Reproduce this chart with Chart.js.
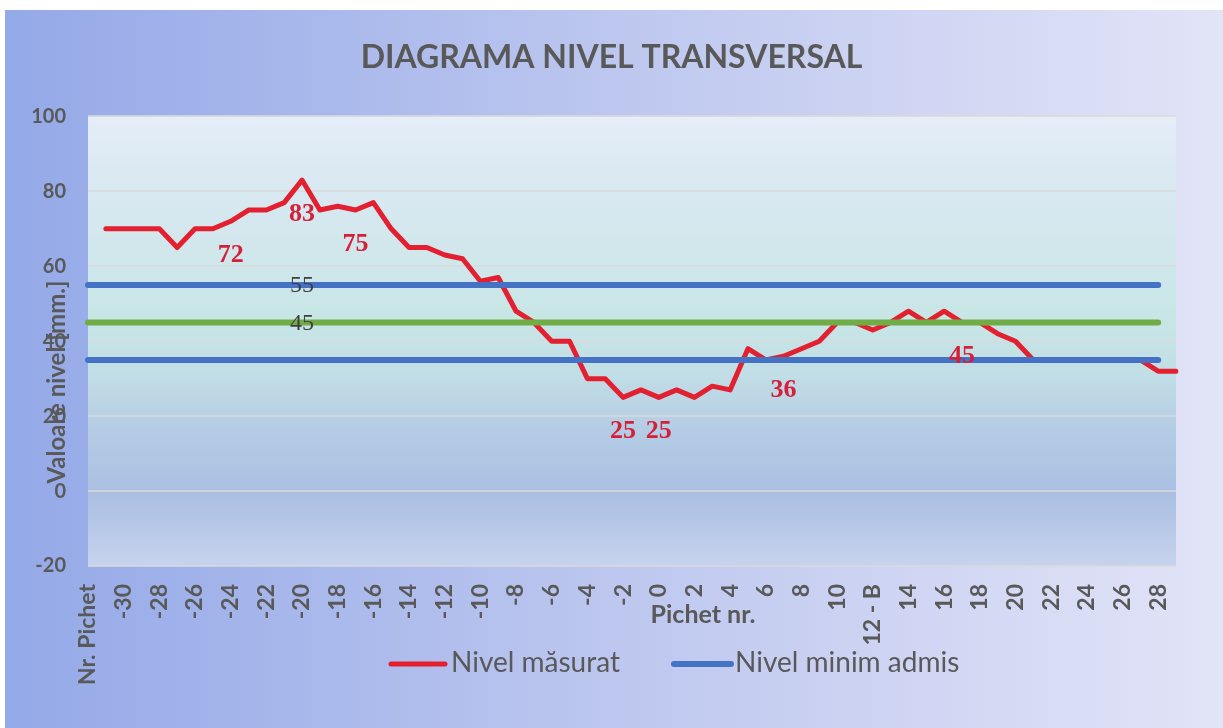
<!DOCTYPE html>
<html>
<head>
<meta charset="utf-8">
<script src="https://cdn.jsdelivr.net/npm/chart.js@4.4.1/dist/chart.umd.min.js"></script>
<style>
  html, body { margin: 0; padding: 0; background: #fff; }
  canvas { display: block; }
</style>
</head>
<body>
<canvas id="grafic" width="1223" height="728"></canvas>
<script>
// pichetii de pe axa X
const pichete = ['Nr. Pichet',
  '-31', '-30', '-29', '-28', '-27', '-26', '-25', '-24', '-23', '-22',
  '-21', '-20', '-19', '-18', '-17', '-16', '-15', '-14', '-13', '-12',
  '-11', '-10', '-9', '-8', '-7', '-6', '-5', '-4', '-3', '-2', '-1',
  '0', '1', '2', '3', '4', '5', '6', '7', '8', '9', '10',
  '11', '12 - B', '13', '14', '15', '16', '17', '18', '19', '20',
  '21', '22', '23', '24', '25', '26', '27', '28', '29'];

// nivelul masurat pe fiecare pichet
const nivelMasurat = [null,
  70, 70, 70, 70, 65, 70, 70, 72, 75, 75,
  77, 83, 75, 76, 75, 77, 70, 65, 65, 63,
  62, 56, 57, 48, 45, 40, 40, 30, 30, 25, 27,
  25, 27, 25, 28, 27, 38, 35, 36, 38, 40, 45,
  45, 43, 45, 48, 45, 48, 45, 45, 42, 40,
  35, 35, 35, 35, 35, 35, 35, 32, 32];

// liniile de referinta
const nivelMaximAdmis = 55;
const nivelMediu = 45;
const nivelMinimAdmis = 35;
const capeteLinii = ['Nr. Pichet', '-20', '28'];

// pichetii la care apare valoarea masurata
const picheteEtichetate = ['-24', '-20', '-17', '-2', '0', '7', '17'];

const gri = '#595959';
const rosu = '#e3202f';
const albastru = '#4472c4';
const verde = '#70ad47';

function linie(valoare) {
  return capeteLinii.map(p => ({ x: p, y: valoare }));
}

// fundalul graficului si al zonei de desen
const fundal = {
  id: 'fundal',
  beforeDraw(chart) {
    const { ctx, chartArea: a, width, height } = chart;
    ctx.save();
    ctx.fillStyle = '#ffffff';
    ctx.fillRect(0, 0, width, height);
    const g = ctx.createLinearGradient(5, 0, width, 0);
    g.addColorStop(0, '#94a9e8');
    g.addColorStop(0.5, '#bdc7ef');
    g.addColorStop(1, '#e2e4f7');
    ctx.fillStyle = g;
    ctx.fillRect(5, 10, width - 5, height - 10);
    const p = ctx.createLinearGradient(0, a.top, 0, a.bottom);
    p.addColorStop(0, '#e6eef8');
    p.addColorStop(0.12, '#dbe9f3');
    p.addColorStop(0.3, '#d1e7ec');
    p.addColorStop(0.45, '#c8e6e6');
    p.addColorStop(0.58, '#c1dde6');
    p.addColorStop(0.7, '#b4cce5');
    p.addColorStop(0.84, '#aabfe2');
    p.addColorStop(1, '#c7d3ee');
    ctx.fillStyle = p;
    ctx.fillRect(a.left, a.top, a.right - a.left, a.bottom - a.top);
    ctx.restore();
  }
};

// etichetele valorilor
const etichete = {
  id: 'etichete',
  afterDatasetsDraw(chart) {
    const ctx = chart.ctx;
    ctx.save();
    ctx.textAlign = 'center';
    ctx.textBaseline = 'middle';
    ctx.fillStyle = '#d42038';
    ctx.font = 'bold 26px "Liberation Serif"';
    const meta = chart.getDatasetMeta(0);
    picheteEtichetate.forEach(p => {
      const i = pichete.indexOf(p);
      const pt = meta.data[i];
      ctx.fillText(String(nivelMasurat[i]), pt.x, pt.y + 34);
    });
    ctx.fillStyle = '#404040';
    ctx.font = '24px "Liberation Serif"';
    [2, 3].forEach(d => {
      const pt = chart.getDatasetMeta(d).data[1];
      ctx.fillText(String(chart.data.datasets[d].data[1].y), pt.x, pt.y + 1);
    });
    ctx.restore();
  }
};

// legenda si titlurile axelor
const legenda = {
  id: 'legenda',
  afterDraw(chart) {
    const ctx = chart.ctx;
    const ds = chart.data.datasets;
    ctx.save();
    [[0, 391, 445, 451], [1, 674, 731, 735]].forEach(([d, x0, x1, tx]) => {
      ctx.strokeStyle = ds[d].borderColor;
      ctx.lineWidth = ds[d].borderWidth;
      ctx.lineCap = 'round';
      ctx.beginPath();
      ctx.moveTo(x0, 664);
      ctx.lineTo(x1, 664);
      ctx.stroke();
      ctx.fillStyle = gri;
      ctx.font = '28px Lato';
      ctx.textAlign = 'left';
      ctx.textBaseline = 'middle';
      ctx.fillText(ds[d].label, tx, 663);
    });
    ctx.font = 'bold 25px Lato';
    ctx.textAlign = 'center';
    ctx.fillText('Pichet nr.', 703, 615);
    ctx.translate(65, 382);
    ctx.rotate(-Math.PI / 2);
    ctx.font = 'bold 24px Lato';
    ctx.textBaseline = 'alphabetic';
    ctx.fillText('Valoare nivel [mm.]', 0, 0);
    ctx.restore();
  }
};

new Chart(document.getElementById('grafic'), {
  type: 'line',
  data: {
    labels: pichete,
    datasets: [
      {
        label: 'Nivel măsurat',
        data: nivelMasurat,
        borderColor: rosu,
        borderWidth: 5,
        borderJoinStyle: 'round',
        borderCapStyle: 'round',
        pointRadius: 0,
        order: 5
      },
      {
        label: 'Nivel minim admis',
        data: linie(nivelMinimAdmis),
        borderColor: albastru,
        borderWidth: 6,
        borderCapStyle: 'round',
        pointRadius: 0,
        order: 2
      },
      {
        label: 'Nivel maxim admis',
        data: linie(nivelMaximAdmis),
        borderColor: albastru,
        borderWidth: 6,
        borderCapStyle: 'round',
        pointRadius: 0,
        order: 1
      },
      {
        label: 'Nivel mediu',
        data: linie(nivelMediu),
        borderColor: verde,
        borderWidth: 6,
        borderCapStyle: 'round',
        pointRadius: 0,
        order: 0
      }
    ]
  },
  options: {
    responsive: false,
    animation: false,
    devicePixelRatio: 1,
    layout: { padding: { top: 10, left: 0, right: 0, bottom: 0 } },
    plugins: {
      legend: { display: false },
      tooltip: { enabled: false },
      title: {
        display: true,
        text: 'DIAGRAMA NIVEL TRANSVERSAL',
        color: gri,
        font: { family: 'Lato', size: 32, weight: 'bold' },
        padding: { top: 28, bottom: 40 }
      }
    },
    scales: {
      x: {
        offset: false,
        grid: { display: false },
        border: { display: false },
        ticks: {
          autoSkip: false,
          minRotation: 90,
          maxRotation: 90,
          padding: 10,
          color: gri,
          font: { family: 'Lato', size: 23, weight: 'bold' },
          callback: function (v, i) {
            return i % 2 === 0 ? this.getLabelForValue(v) : '';
          }
        },
        afterFit(s) { s.height = 162; }
      },
      y: {
        min: -20,
        max: 100,
        grid: { color: 'rgba(217,217,217,0.75)', lineWidth: 2, drawTicks: false },
        border: { display: false },
        ticks: {
          stepSize: 20,
          padding: 22,
          color: gri,
          font: { family: 'Lato', size: 20, weight: 'bold' }
        },
        afterFit(s) { s.width = 88; }
      },
      // spatiul liber din dreapta zonei de desen
      margine: {
        type: 'linear',
        position: 'right',
        grid: { display: false },
        border: { display: false },
        ticks: { display: false },
        afterFit(s) { s.width = 47; }
      }
    }
  },
  plugins: [fundal, etichete, legenda]
});
</script>
</body>
</html>
